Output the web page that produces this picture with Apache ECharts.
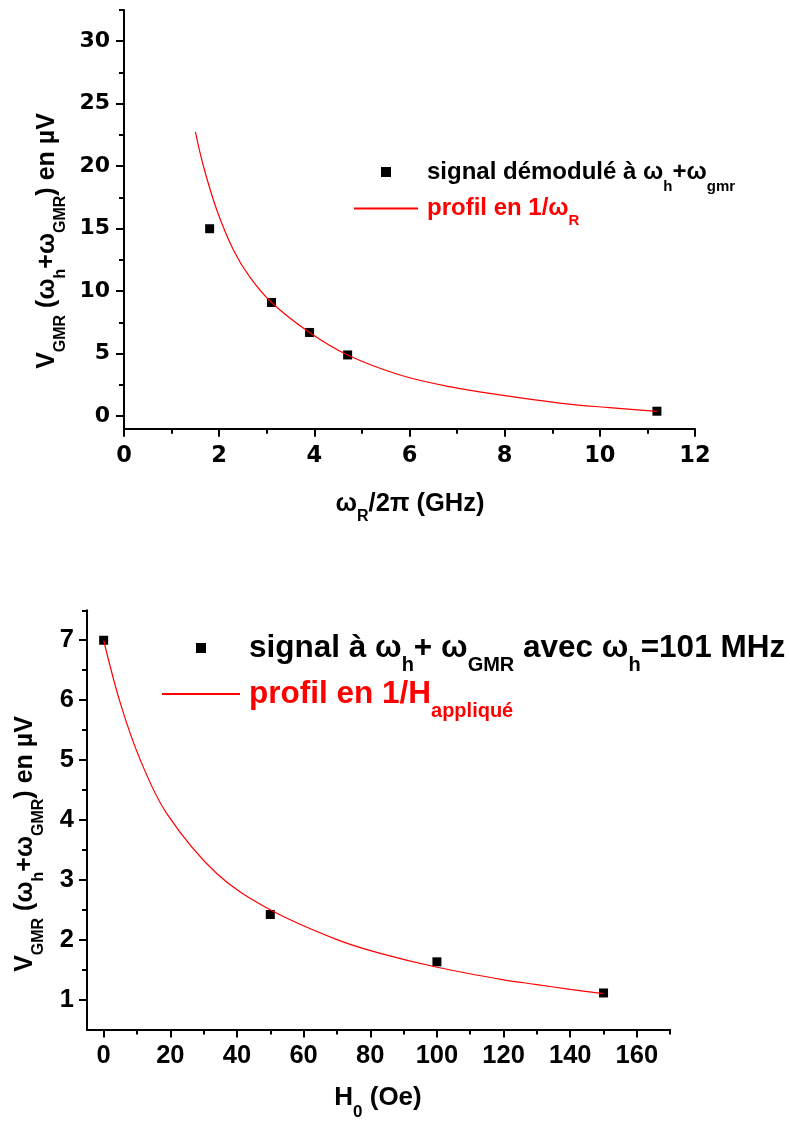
<!DOCTYPE html>
<html>
<head>
<meta charset="utf-8">
<script src="https://cdn.jsdelivr.net/npm/echarts@6/dist/echarts.min.js"></script>
<style>html,body{margin:0;padding:0;background:#fff;}#c{width:790px;height:1122px;}</style>
</head>
<body>
<div id="c"></div>
<script>
// ---------- data ----------
const topPointsX = [1.8, 3.1, 3.9, 4.7, 11.2];
const topPointsY = [15.0, 9.1, 6.7, 4.9, 0.4];
const topCurveX = [1.5, 1.67, 1.95, 2.3, 2.65, 3.1, 3.9, 4.7, 5.8, 6.85, 7.9, 9.15, 10.2, 11.2];
const topCurveY = [22.75, 20.0, 16.5, 13.3, 11.1, 9.1, 6.7, 4.9, 3.3, 2.36, 1.7, 1.05, 0.68, 0.38];
const topXMajor = [0, 2, 4, 6, 8, 10, 12];
const topXMinor = [1, 3, 5, 7, 9, 11];
const topYMajor = [0, 5, 10, 15, 20, 25, 30];
const topYMinor = [2.5, 7.5, 12.5, 17.5, 22.5, 27.5, 32.5];

const botPointsX = [0, 50, 100, 150];
const botPointsY = [7.0, 2.42, 1.63, 1.11];
const botCurveX = [0, 5, 11, 19, 34, 50, 70, 83, 100, 120, 130, 140, 150];
const botCurveY = [7.0, 5.95, 5.0, 4.1, 3.1, 2.5, 2.0, 1.77, 1.54, 1.33, 1.25, 1.17, 1.10];
const botXMajor = [0, 20, 40, 60, 80, 100, 120, 140, 160];
const botXMinor = [10, 30, 50, 70, 90, 110, 130, 150, 170];
const botYMajor = [1, 2, 3, 4, 5, 6, 7];
const botYMinor = [1.5, 2.5, 3.5, 4.5, 5.5, 6.5, 7.5];

// ---------- styles ----------
const FONT = 'Liberation Sans, Arial, Helvetica, sans-serif';
const TICKFONT_TOP = 'DejaVu Sans, Liberation Sans, sans-serif';
function rich(M, S, color, shift) {
  return {
    m: {fontSize: M, fontWeight: 'bold', fontFamily: FONT, color: color, fill: color, lineHeight: M + 4},
    s: {fontSize: S, fontWeight: 'bold', fontFamily: FONT, color: color, fill: color, lineHeight: M + 4, padding: [shift, 0, -shift, 0]},
    g: {width: 4, lineHeight: M + 4}
  };
}
function mergeRich(a, b) {
  return {m: a.m, s: a.s, g: a.g, rm: b.m, rs: b.s};
}
const AX = {color: '#000', width: 2};

function mainAxis(gridIndex, min, max, major, fontSize, margin, family) {
  return {
    type: 'value', gridIndex, min, max,
    axisLine: {show: true, onZero: false, lineStyle: AX},
    axisTick: {show: true, customValues: major, length: 8, lineStyle: AX},
    axisLabel: {show: true, customValues: major, fontSize, fontWeight: 'bold', fontFamily: family, color: '#000', margin},
    splitLine: {show: false}, minorTick: {show: false}
  };
}
function minorAxis(gridIndex, min, max, minor) {
  return {
    type: 'value', gridIndex, min, max,
    axisLine: {show: false, onZero: false},
    axisTick: {show: true, customValues: minor, length: 5, lineStyle: AX},
    axisLabel: {show: false},
    splitLine: {show: false}
  };
}

const topRich = rich(24, 15, '#000', 15);
const topRedRich = rich(24, 15, '#ff0000', 12);
const botRich = rich(31.5, 20, '#000', 17);
const botRedRich = rich(31.5, 20, '#ff0000', 17);

const gridTop = {left: 124, right: 95, top: 10, bottom: 693.3, outerBoundsMode: 'none', containLabel: false};
const gridBot = {left: 87, right: 119.8, top: 610.3, bottom: 92.5, outerBoundsMode: 'none', containLabel: false};

const option = {
  animation: false,
  backgroundColor: '#fff',
  grid: [gridTop, gridBot, Object.assign({}, gridTop), Object.assign({}, gridBot)],
  xAxis: [
    mainAxis(0, 0, 12, topXMajor, 22.5, 16, TICKFONT_TOP),
    mainAxis(1, -5, 170, botXMajor, 25.5, 13, FONT),
    minorAxis(2, 0, 12, topXMinor),
    minorAxis(3, -5, 170, botXMinor)
  ],
  yAxis: [
    mainAxis(0, -1, 32.5, topYMajor, 22, 14, TICKFONT_TOP),
    mainAxis(1, 0.5, 7.5, botYMajor, 25.5, 13, FONT),
    minorAxis(2, -1, 32.5, topYMinor),
    minorAxis(3, 0.5, 7.5, botYMinor)
  ],
  legend: [
    {
      orient: 'vertical', left: 353, top: 160, padding: 0, itemGap: 2,
      itemWidth: 64, itemHeight: 10, selectedMode: false, symbolKeepAspect: true,
      data: [
        {name: 'topSig', icon: 'path://M0,0L10,0L10,10L0,10Z', itemStyle: {opacity: 1}},
        {name: 'topProf', itemStyle: {opacity: 0}}
      ],
      formatter: function (n) {
        return n === 'topSig'
          ? '{g|}{m|signal démodulé à ω}{s|h}{m|+ω}{s|gmr}'
          : '{g|}{rm|profil en 1/ω}{rs|R}';
      },
      textStyle: {rich: mergeRich(topRich, topRedRich)}
    },
    {
      orient: 'vertical', left: 161, top: 632, padding: 0, itemGap: 3,
      itemWidth: 78, itemHeight: 10, selectedMode: false, symbolKeepAspect: true,
      data: [
        {name: 'botSig', icon: 'path://M0,0L10,0L10,10L0,10Z', itemStyle: {opacity: 1}},
        {name: 'botProf', itemStyle: {opacity: 0}}
      ],
      formatter: function (n) {
        return n === 'botSig'
          ? '{g|}{m|signal à ω}{s|h}{m|+ ω}{s|GMR}{m| avec ω}{s|h}{m|=101 MHz}'
          : '{g|}{rm|profil en 1/H}{rs|appliqué}';
      },
      textStyle: {rich: mergeRich(botRich, botRedRich)}
    }
  ],
  series: [
    {
      name: 'topSig', type: 'scatter', xAxisIndex: 0, yAxisIndex: 0,
      symbol: 'rect', symbolSize: 9, itemStyle: {color: '#000', opacity: 1}, z: 2,
      data: topPointsX.map((x, i) => [x, topPointsY[i]])
    },
    {
      name: 'topProf', type: 'line', xAxisIndex: 0, yAxisIndex: 0,
      symbol: 'none', smooth: 0.35, z: 3,
      lineStyle: {color: '#ff0000', width: 1.2}, itemStyle: {color: '#ff0000'},
      data: topCurveX.map((x, i) => [x, topCurveY[i]])
    },
    {
      name: 'botSig', type: 'scatter', xAxisIndex: 1, yAxisIndex: 1,
      symbol: 'rect', symbolSize: 9, itemStyle: {color: '#000', opacity: 1}, z: 2,
      data: botPointsX.map((x, i) => [x, botPointsY[i]])
    },
    {
      name: 'botProf', type: 'line', xAxisIndex: 1, yAxisIndex: 1,
      symbol: 'none', smooth: 0.35, z: 3,
      lineStyle: {color: '#ff0000', width: 1.2}, itemStyle: {color: '#ff0000'},
      data: botCurveX.map((x, i) => [x, botCurveY[i]])
    }
  ],
  graphic: [
    {
      type: 'text', x: 47, y: 241, rotation: Math.PI / 2,
      style: {text: '{m|V}{s|GMR}{m| (ω}{s|h}{m|+ω}{s|GMR}{m|) en µV}', rich: rich(25, 16, '#000', 14), align: 'center', verticalAlign: 'middle'}
    },
    {
      type: 'text', x: 410, y: 504,
      style: {text: '{m|ω}{s|R}{m|/2π (GHz)}', rich: rich(25.5, 16, '#000', 13), align: 'center', verticalAlign: 'middle'}
    },
    {
      type: 'text', x: 25, y: 844, rotation: Math.PI / 2,
      style: {text: '{m|V}{s|GMR}{m| (ω}{s|h}{m|+ω}{s|GMR}{m|) en µV}', rich: rich(25, 16, '#000', 14), align: 'center', verticalAlign: 'middle'}
    },
    {
      type: 'text', x: 378, y: 1098,
      style: {text: '{m|H}{s|0}{m| (Oe)}', rich: rich(26, 17, '#000', 14), align: 'center', verticalAlign: 'middle'}
    }
  ]
};
const chart = echarts.init(document.getElementById('c'), null, {renderer: 'canvas', width: 790, height: 1122});
chart.setOption(option);
</script>
</body>
</html>
